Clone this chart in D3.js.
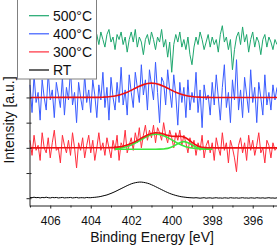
<!DOCTYPE html>
<html>
<head>
<meta charset="utf-8">
<script src="https://cdn.jsdelivr.net/npm/d3@7"></script>
<style>
  body { margin: 0; background: #fff; }
  svg { display: block; font-family: "Liberation Sans", Arial, sans-serif; }
</style>
</head>
<body>
<svg id="chart" width="277" height="246"></svg>
<script>
// binding energy grid of the measured spectra (eV), 407.0 down to 394.8
var energy = d3.range(123).map(function(i) { return +(407 - 0.1 * i).toFixed(1); });

var series500 = [6.3,6.1,6.5,6.2,6.4,5.9,6.3,6.6,6.2,6.0, 6.4,6.3,6.7,6.1,6.2,6.5,5.9,6.3,6.4,6.0,
  6.6,6.2,6.3,6.1,6.5,6.4,5.8,6.2,6.6,6.3, 6.0,6.4,6.2,6.5,
  6.1,6.6,6.3,6.0,6.5,6.7,6.2,6.4,5.9,6.5, 6.3,6.6,6.1,6.4,5.8,6.3,6.6,6.2,6.7,6.0,
  6.4,6.2,5.7,6.3,6.5,6.1,6.6,6.3,5.9,6.4, 6.2,6.7,6.0,6.3,5.6,6.2,5.0,6.1,6.5,6.2,
  6.6,6.0,6.3,5.9,6.4,5.7,5.3,6.0,6.4,6.1, 6.6,6.3,5.9,6.2,6.5,6.0,6.4,6.1,6.3,5.8,
  6.5,6.85,6.2,6.4,5.9,6.3,5.1,5.9,6.4,6.6, 6.1,6.8,6.2,6.5,5.8,6.3,6.6,6.0,6.4,6.2,
  5.7,6.3,6.5,6.0,6.4,6.2,5.9,6.3,6.1];

var series400 = [4.5,3.4,4.9,3.8,4.2,3.1,4.7,4.0,3.5,5.0, 3.9,4.3,3.2,4.6,4.1,3.6,4.8,3.3,4.4,3.9,
  5.1,3.7,4.2,3.0,4.6,4.0,3.5,4.9,3.8,4.3, 3.4,4.7,4.1,3.2,4.5,3.9,5.0,3.6,4.4,3.1,
  4.8,4.0,3.5,4.6,3.8,5.2,3.7,4.3,3.3,4.9, 4.2,3.6,5.0,4.4,3.8,5.3,4.1,4.7,3.5,5.1,
  4.5,3.9,5.4,4.2,3.0,4.8,4.6,3.7,5.1,4.3, 3.6,4.9,4.1,2.9,4.6,3.8,4.4,3.2,4.7,3.5,
  4.2,3.8,5.0,3.4,4.3,2.8,4.5,3.9,4.1,3.3, 4.6,3.7,4.9,4.0,3.1,4.4,5.3,3.6,4.2,3.0,
  4.7,3.9,5.5,3.5,4.3,3.2,4.8,4.1,3.4,5.1, 3.8,4.4,3.0,4.6,4.0,3.3,4.9,3.7,4.2,3.5,
  4.5,3.9,4.4];

var series300 = [2.3,1.7,2.5,1.9,2.1,1.5,2.6,2.0,1.8,2.4, 1.6,2.2,2.7,1.9,2.0,1.4,2.5,2.1,1.8,2.3,
  1.7,2.6,2.0,1.2,2.2,1.9,2.4,1.6,2.1,2.5, 1.8,2.3,1.5,2.0,2.6,1.9,2.2,1.7,2.4,2.0,
  1.6,2.3,1.9,2.5,1.5,2.2,2.0,2.7,1.8,2.1, 2.4,1.9,2.6,2.2,2.8,2.0,2.5,2.9,2.3,2.7,
  2.4,2.9,2.2,2.8,2.6,2.3,3.0,2.5,2.2,2.7, 2.4,2.0,2.6,2.3,2.7,2.1,2.5,2.2,1.8,2.4,
  2.0,2.3,1.7,2.2,1.9,2.5,1.6,2.1,2.3,1.8, 2.2,1.5,2.4,2.0,1.7,2.6,1.9,2.2,1.4,2.3,
  2.0,1.6,1.05,2.1,2.4,1.8,2.2,1.5,2.5,1.9, 2.3,1.7,2.1,2.6,1.8,2.0,1.4,2.3,2.1,1.6,
  2.2,1.9,2.0];

var seriesRT = [0.03,0.02,0.04,0.02,0.03,0.01,0.03,0.02,0.04,0.02, 0.01,0.03,0.02,0.03,0.01,0.02,0.03,0.01,0.02,0.02,
  0.03,0.01,0.02,0.03,0.01,0.02,0.02,0.01,0.03,0.02,
  0.02,0.03,0.035,0.045,0.055,0.07,0.09,0.11,0.13,0.16, 0.19,0.225,0.26,0.30,0.34,0.38,0.42,0.46,0.50,0.535,
  0.57,0.595,0.615,0.63,0.64,0.64,0.63,0.615,0.595,0.57, 0.535,0.50,0.46,0.42,0.38,0.34,0.30,0.26,0.225,0.19,
  0.16,0.135,0.11,0.09,0.07,0.055,0.045,0.035,0.025,0.02,
  0.015,0.01,0.02,0.01,0.0,0.01,0.02,0.0,0.01,0.015, 0.0,0.01,0.02,0.005,0.01,0.0,0.015,0.01,0.0,0.02,
  0.01,0.005,0.015,0.0,0.01,0.02,0.005,0.01,0.0,0.015, 0.01,0.0,0.02,0.01,0.005,0.015,0.0,0.01,0.02,0.005,
  0.01,0.0,0.015];

// fitted curves
var fitEnergy = [407.0, 403.6,403.4,403.2,403.0,402.8,402.6,402.4,402.2,402.0,401.8,401.6,401.4,401.2,401.0,
  400.8,400.6,400.4,400.2,400.0,399.8,399.6,399.4,399.2,399.0,398.8,398.6,398.4,398.2,398.0,397.8, 394.8];
var fit400 = [4.000, 4.005,4.011,4.020,4.036,4.061,4.097,4.147,4.210,4.286,4.366,4.444,4.510,4.555,4.570,
  4.555,4.510,4.444,4.366,4.286,4.210,4.147,4.097,4.061,4.036,4.020,4.011,4.005,4.002,4.001,4.000, 4.000];
var fit300 = [2.000, 2.001,2.002,2.004,2.010,2.020,2.037,2.066,2.109,2.170,2.247,2.336,2.428,2.512,2.572,
  2.599,2.589,2.548,2.497,2.459,2.453,2.460,2.431,2.342,2.219,2.112,2.046,2.015,2.005,2.001,2.000, 2.000];

var compEnergy = [402.8,402.6,402.4,402.2,402.0,401.8,401.6,401.4,401.2,401.0,400.8,400.6,400.4,
  400.2,400.0,399.8,399.6,399.4,399.2,399.0,398.8,398.6,398.4,398.2,398.0];
var comp300a = [1.965,1.982,2.011,2.054,2.115,2.192,2.281,2.373,2.457,2.517,2.544,2.532,2.484,
  2.409,2.318,2.226,2.144,2.076,2.026,1.992,1.971,1.958,1.951,1.948,1.946];
var comp300b = [1.945,1.945,1.945,1.945,1.945,1.945,1.945,1.945,1.945,1.945,1.945,1.947,1.954,
  1.978,2.031,2.117,2.206,2.245,2.206,2.117,2.031,1.978,1.954,1.947,1.945];

var xMajor = [406, 404, 402, 400, 398, 396],
    xMinor = [407, 405, 403, 401, 399, 397, 395],
    yTicks = [0, 1, 2, 3, 4, 5, 6, 7];

var legendItems = [
  {label: "500°C", color: "#1ea76e"},
  {label: "400°C", color: "#3a5cff"},
  {label: "300°C", color: "#ff2d3c"},
  {label: "RT", color: "#000"}
];

var svg = d3.select("#chart");

var x = d3.scaleLinear().domain([407.05, 394.8]).range([29, 277]),
    y = d3.scaleLinear().domain([-0.27, 7.87]).range([205, 0]);

var line = d3.line()
    .x(function(d) { return x(d[0]); })
    .y(function(d) { return y(d[1]); });

var smooth = d3.line()
    .curve(d3.curveMonotoneX)
    .x(function(d) { return x(d[0]); })
    .y(function(d) { return y(d[1]); });

function pairs(xs, ys) { return xs.map(function(e, i) { return [e, ys[i]]; }); }

var data = [
  {values: series500, color: legendItems[0].color},
  {values: series400, color: legendItems[1].color},
  {values: series300, color: legendItems[2].color},
  {values: seriesRT, color: legendItems[3].color}
];

svg.selectAll(".spectrum")
    .data(data)
    .enter().append("path")
    .attr("class", "spectrum")
    .attr("fill", "none")
    .attr("stroke", function(d) { return d.color; })
    .attr("stroke-width", 1)
    .attr("d", function(d) { return line(pairs(energy, d.values)); });

// green components sit under the red envelope
[comp300a, comp300b].forEach(function(c) {
  svg.append("path")
      .attr("fill", "none").attr("stroke", "#3de63d").attr("stroke-width", 1.6)
      .attr("d", smooth(pairs(compEnergy, c)));
});

svg.append("path")
    .attr("fill", "none").attr("stroke", "#ee1111").attr("stroke-width", 1.6)
    .attr("d", smooth(pairs(fitEnergy, fit400)));

svg.append("path")
    .attr("fill", "none").attr("stroke", "#ee1111").attr("stroke-width", 1.6)
    .attr("d", smooth(pairs(fitEnergy, fit300)));

// axes
var gx = svg.append("g").attr("transform", "translate(0,205.5)");
gx.call(d3.axisBottom(x).tickValues(xMajor).tickSize(3).tickSizeOuter(0).tickPadding(8));
gx.append("g").call(d3.axisBottom(x).tickValues(xMinor).tickSize(2).tickFormat(""))
    .select(".domain").remove();

var gy = svg.append("g").attr("transform", "translate(29.5,0)");
gy.call(d3.axisLeft(y).tickValues(yTicks).tickSize(3).tickSizeOuter(0).tickFormat(""));
gy.append("g").call(d3.axisLeft(y).tickValues(yTicks).tickSize(-2).tickFormat(""))
    .select(".domain").remove();

svg.selectAll(".domain, .tick line").attr("stroke", "#222");
gx.selectAll("text").style("font-size", "12px").attr("fill", "#111");

svg.append("text")
    .attr("x", 152).attr("y", 242)
    .attr("text-anchor", "middle")
    .style("font-size", "14px")
    .attr("fill", "#111")
    .text("Binding Energy [eV]");

svg.append("text")
    .attr("transform", "translate(14,120) rotate(-90)")
    .attr("text-anchor", "middle")
    .style("font-size", "14px")
    .attr("fill", "#111")
    .text("Intensity [a.u.]");

// legend
var legend = svg.append("g");
legend.append("rect")
    .attr("x", 17.5).attr("y", -2).attr("width", 79).attr("height", 81)
    .attr("fill", "#fff").attr("stroke", "#808080");

var item = legend.selectAll(".item")
    .data(legendItems)
    .enter().append("g")
    .attr("class", "item")
    .attr("transform", function(d, i) { return "translate(0," + (20.7 + i * 18.1) + ")"; });

item.append("line")
    .attr("x1", 29).attr("x2", 49).attr("y1", -5).attr("y2", -5)
    .attr("stroke", function(d) { return d.color; })
    .attr("stroke-width", 1.2);

item.append("text")
    .attr("x", 53)
    .style("font-size", "14px")
    .attr("fill", "#111")
    .text(function(d) { return d.label; });
</script>
</body>
</html>
